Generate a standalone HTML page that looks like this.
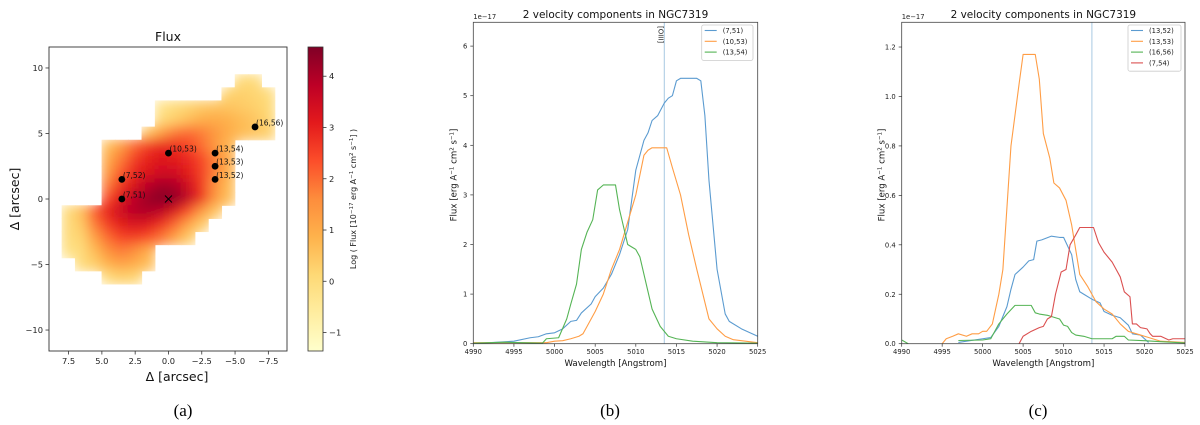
<!DOCTYPE html>
<html><head><meta charset="utf-8">
<style>
html,body{margin:0;padding:0;background:#fff;}
svg{display:block;font-family:"DejaVu Sans","Liberation Sans",sans-serif;}
.cap{font-family:"Liberation Serif",serif;font-size:17px;}
</style></head>
<body>
<svg id="fig" width="1200" height="425" viewBox="0 0 1200 425" xmlns="http://www.w3.org/2000/svg">
<defs>
<filter id="blur" x="-10%" y="-10%" width="120%" height="120%"><feGaussianBlur stdDeviation="6"/></filter>
<linearGradient id="cbgrad" x1="0" y1="1" x2="0" y2="0">
<stop offset="0" stop-color="#ffffcc"/><stop offset="0.125" stop-color="#ffeda0"/><stop offset="0.25" stop-color="#fed976"/><stop offset="0.375" stop-color="#feb24c"/><stop offset="0.5" stop-color="#fd8d3c"/><stop offset="0.625" stop-color="#fc4e2a"/><stop offset="0.75" stop-color="#e31a1c"/><stop offset="0.875" stop-color="#bd0026"/><stop offset="1" stop-color="#800026"/>
</linearGradient>
<clipPath id="maskclip"></clipPath>
</defs>
<g id="pa"></g>
<g id="pb"></g>
<g id="pc"></g>
<text class="cap" x="183" y="416" text-anchor="middle">(a)</text>
<text class="cap" x="610" y="416" text-anchor="middle">(b)</text>
<text class="cap" x="1038" y="416" text-anchor="middle">(c)</text>
</svg>
<script>
// ---------- Panel (a) data ----------
const mapRowsY = [9,8,7,6,5,4,3,2,1,0,-1,-2,-3,-4,-5,-6];
const mapRowsXStart = [-5,-4,1,1,2,5,5,5,5,5,8,8,8,8,7,5];
const mapRowsValues = [
 [0,0],
 [0.2,0.3,0.2,0],
 [-0.3,0,0.2,0.4,0.5,0.5,0.4,0.3,0.1],
 [0,0.3,0.6,0.9,1,0.9,0.7,0.5,0.2],
 [0.5,1.2,1.8,2,1.8,1.4,1,0.7,0.5,0.3],
 [0.6,1.3,2,2.6,2.9,2.8,2.5,2,1.4,0.8],
 [1,1.8,2.6,3.0,3.2,3.1,2.9,2.5,1.8,1],
 [1.3,2.2,2.9,3.2,3.4,3.4,3.1,2.6,1.8,0.9],
 [1.8,2.7,3.3,3.8,4.1,4.0,3.5,2.7,1.6,0.7],
 [2.4,3.2,3.8,4.2,4.5,4.4,3.8,2.8,1.5,0.6],
 [0,0.6,2.2,3.0,3.5,3.9,4.0,3.8,3.3,2.4,1.4,0.5],
 [0,0.4,1.8,2.6,3.1,3.3,3.2,2.8,2.1,1.2,0.4],
 [0,0.2,1.2,2,2.5,2.6,2.4,1.9,1.2,0.4],
 [-0.2,0,0.7,1.5,1.8,1.6,1.0],
 [0,0.3,0.9,1.2,1.0,0.6],
 [0,0.3,0.2]
];
const spaxelLabels = ["(7,52)","(7,51)","(10,53)","(13,54)","(13,53)","(13,52)","(16,56)"];
const spaxelX = [3.5,3.5,0,-3.5,-3.5,-3.5,-6.5];
const spaxelY = [1.5,0,3.5,3.5,2.5,1.5,5.5];
const mapXTicks = [7.5,5.0,2.5,0.0,-2.5,-5.0,-7.5];
const mapYTicks = [10,5,0,-5,-10];
const cbTicks = [-1,0,1,2,3,4];

// ---------- Panel (b) data ----------
const bBlueX = [4990,4992,4995,4997,4998,4999,5000,5001,5002,5002.7,5003.3,5004.5,5005,5006,5007,5008,5009,5010,5010.5,5011,5011.5,5012,5012.7,5013.5,5014,5014.5,5015,5015.5,5017.5,5018,5018.5,5019,5020,5021,5021.5,5023,5025];
const bBlueY = [0,0.02,0.05,0.12,0.14,0.2,0.22,0.3,0.45,0.47,0.62,0.8,0.95,1.12,1.4,1.8,2.3,3.5,3.8,4.1,4.25,4.5,4.6,4.85,4.95,5.0,5.3,5.35,5.35,5.3,4.6,3.3,1.5,0.6,0.45,0.3,0.15];
const bOrangeX = [4990,4999,5000,5001,5002,5003,5003.5,5004,5005,5006,5007,5008,5009,5010,5011,5011.5,5012,5013.8,5014.5,5015.5,5016.5,5017.5,5019,5020,5021,5022,5025];
const bOrangeY = [0.02,0.02,0.05,0.06,0.1,0.15,0.2,0.35,0.65,1.0,1.5,1.9,2.45,3.0,3.8,3.9,3.95,3.95,3.55,3.0,2.2,1.5,0.5,0.3,0.15,0.08,0.02];
const bGreenX = [4990,4994,4996,4998.5,4999,5000.5,5001.5,5002,5002.7,5003.3,5004,5004.7,5005.3,5006,5007.5,5008,5009,5009.5,5010,5010.5,5011.5,5012,5013,5014,5015,5017,5020,5025];
const bGreenY = [0.01,0.03,0.02,0.01,0.1,0.12,0.5,0.8,1.2,1.9,2.25,2.5,3.1,3.2,3.2,2.7,2.0,1.95,1.9,1.75,1.05,0.7,0.35,0.15,0.1,0.05,0.02,0.01];
const bYTicks = [0,1,2,3,4,5,6];
const bLegend = ["(7,51)","(10,53)","(13,54)"];

// ---------- Panel (c) data ----------
const cBlueX = [4997,5000,5001,5002,5003,5003.5,5004,5005,5005.7,5006.3,5006.7,5007.3,5008.5,5009.5,5010,5011,5011.5,5012,5012.5,5013.5,5014.5,5015,5016,5017,5018,5018.5,5019.5,5020.5];
const cBlueY = [0.005,0.02,0.025,0.07,0.15,0.22,0.28,0.31,0.335,0.34,0.415,0.42,0.435,0.43,0.43,0.36,0.26,0.21,0.2,0.18,0.165,0.13,0.115,0.105,0.075,0.04,0.035,0.005];
const cOrangeX = [4995,4995.5,4996.3,4997,4998,4998.7,4999.5,5000,5000.5,5001.2,5002,5002.5,5003.5,5004.5,5005,5006.5,5007,5007.5,5008.3,5008.8,5009.5,5010.3,5011,5011.5,5012,5013,5013.5,5014,5015,5016,5017,5018,5019,5020,5021,5022,5025];
const cOrangeY = [0,0.02,0.03,0.04,0.03,0.04,0.04,0.05,0.05,0.08,0.2,0.3,0.8,1.05,1.17,1.17,1.07,0.85,0.75,0.65,0.63,0.58,0.48,0.38,0.28,0.23,0.2,0.17,0.14,0.12,0.08,0.05,0.04,0.03,0.02,0.01,0.005];
const cGreenX = [4990,4990.8,4995.7,4997,5000,5001,5002,5003,5004,5006,5006.5,5007,5008,5009,5009.5,5010,5010.5,5011,5011.5,5012.5,5013.5,5015,5016,5016.5,5017.5,5018,5020,5022,5025];
const cGreenY = [0.015,0,null,0.013,0.015,0.02,0.08,0.12,0.155,0.155,0.125,0.12,0.115,0.105,0.1,0.075,0.07,0.045,0.035,0.03,0.02,0.02,0.02,0.03,0.03,0.015,0.012,0.008,0.003];
const cRedX = [5004.5,5005,5006,5007,5007.5,5008,5008.5,5009,5009.7,5010.3,5010.8,5011.5,5012,5013.7,5014.3,5015,5016,5016.5,5017,5017.5,5018.2,5018.5,5019,5019.5,5020.3,5020.7,5021,5022,5023,5023.5,5025];
const cRedY = [0,0.03,0.05,0.065,0.07,0.1,0.11,0.2,0.29,0.3,0.4,0.44,0.47,0.47,0.41,0.37,0.33,0.3,0.27,0.21,0.19,0.08,0.08,0.065,0.06,0.04,0.03,0.03,0.015,0.02,0.02];
const cYTicks = [0.0,0.2,0.4,0.6,0.8,1.0,1.2];
const cLegend = ["(13,52)","(13,53)","(16,56)","(7,54)"];
const xTicksSpec = [4990,4995,5000,5005,5010,5015,5020,5025];
const oiiiLine = 5013.5;

// ---------- helpers ----------
const NS="http://www.w3.org/2000/svg";
function mk(parent,tag,attrs,txt){const e=document.createElementNS(NS,tag);for(const k in attrs)e.setAttribute(k,attrs[k]);if(txt!==undefined)e.textContent=txt;parent.appendChild(e);return e;}
function lin(d0,d1,r0,r1){return v=>r0+(v-d0)/(d1-d0)*(r1-r0);}
const cmapStops=["#ffffcc","#ffeda0","#fed976","#feb24c","#fd8d3c","#fc4e2a","#e31a1c","#bd0026","#800026"];
function hex(c){return [parseInt(c.slice(1,3),16),parseInt(c.slice(3,5),16),parseInt(c.slice(5,7),16)];}
function cmap(v,vmin,vmax){let t=(v-vmin)/(vmax-vmin);t=Math.max(0,Math.min(1,t))*(cmapStops.length-1);const i=Math.min(Math.floor(t),cmapStops.length-2),f=t-i;const a=hex(cmapStops[i]),b=hex(cmapStops[i+1]);return `rgb(${a.map((x,k)=>Math.round(x+(b[k]-x)*f)).join(',')})`;}

// ---------- Panel (a) ----------
(function(){
 const g=document.getElementById('pa');
 const L=49,R=287,T=47,B=351;
 const sx=lin(8.97,-8.9,L,R), sy=lin(11.6,-11.6,T,B);
 const vmin=-1.36,vmax=4.57;
 const heat=mk(g,'g',{'clip-path':'url(#maskclip)'});
 
 
 const blurG=mk(heat,'g',{filter:'url(#blur)'});
 const maskg=document.getElementById('maskclip');
 mapRowsY.forEach((y,ri)=>{
  mapRowsValues[ri].forEach((v,ci)=>{
   const x0=mapRowsXStart[ri]-ci, x1=x0-1;
   const px=sx(x0), pw=sx(x1)-sx(x0), py=sy(y+0.5), ph=sy(y-0.5)-sy(y+0.5);
   const r=mk(blurG,'rect',{x:px-1,y:py-1,width:pw+2,height:ph+2,fill:cmap(v,vmin,vmax)});
   
   
   mk(maskg,'rect',{x:px-0.3,y:py-0.3,width:pw+0.6,height:ph+0.6});
  });
 });
 const frame=mk(g,'rect',{x:L,y:T,width:R-L,height:B-T,fill:'none',stroke:'#333','stroke-width':0.9});
 
 
 mapXTicks.forEach(t=>{const x=sx(t);mk(g,'line',{x1:x,y1:B,x2:x,y2:B+3.5,stroke:'#333','stroke-width':0.8});
  const lb=mk(g,'text',{x:x,y:B+13,'font-size':8.3,'text-anchor':'middle',fill:'#222'},t.toFixed(1).replace('-','\u2212'));
  
  });
 mapYTicks.forEach(t=>{const y=sy(t);mk(g,'line',{x1:L,y1:y,x2:L-3.5,y2:y,stroke:'#333','stroke-width':0.8});
  const lb=mk(g,'text',{x:L-6,y:y+3,'font-size':8.3,'text-anchor':'end',fill:'#222'},String(t).replace('-','\u2212'));
  
  });
 const tt=mk(g,'text',{x:168,y:41,'font-size':12.5,'text-anchor':'middle',fill:'#111'},'Flux');
 
 
 const xl=mk(g,'text',{x:177,y:381,'font-size':12.5,'text-anchor':'middle',fill:'#111'},'\u0394 [arcsec]');
 
 
 const yl=mk(g,'text',{x:0,y:0,'font-size':12.5,'text-anchor':'middle',fill:'#111',transform:`translate(19,${(T+B)/2}) rotate(-90)`},'\u0394 [arcsec]');
 
 
 spaxelX.forEach((x,i)=>{
  const c=mk(g,'circle',{cx:sx(x),cy:sy(spaxelY[i]),r:3.4,fill:'#000'});
  
  
  const lb=mk(g,'text',{x:sx(x)+1,y:sy(spaxelY[i])-1.5,'font-size':7.5,fill:'#111'},spaxelLabels[i]);
  
  
 });
 const cx=sx(0),cy=sy(0);
 const xm=mk(g,'path',{d:`M${cx-3.5},${cy-3.5}L${cx+3.5},${cy+3.5}M${cx-3.5},${cy+3.5}L${cx+3.5},${cy-3.5}`,stroke:'#000','stroke-width':0.9});
 
 
 const cL=308,cR=323;
 const cs=lin(vmin,vmax,B,T);
 const cb=mk(g,'rect',{x:cL,y:T,width:cR-cL,height:B-T,fill:'url(#cbgrad)',stroke:'#333','stroke-width':0.8});
 
 
 cbTicks.forEach(t=>{const y=cs(t);mk(g,'line',{x1:cR,y1:y,x2:cR+3.5,y2:y,stroke:'#333','stroke-width':0.8});
  const lb=mk(g,'text',{x:cR+6,y:y+3,'font-size':8.3,fill:'#222'},String(t).replace('-','\u2212'));
  
  });
 const cbl=mk(g,'text',{x:0,y:0,'font-size':8,'text-anchor':'middle',fill:'#222',transform:`translate(356,${(T+B)/2}) rotate(-90)`});
 
 
 cbl.innerHTML='Log ( Flux [10<tspan baseline-shift="super" font-size="5.5">\u221217</tspan> erg A<tspan baseline-shift="super" font-size="5.5">\u22121</tspan> cm<tspan baseline-shift="super" font-size="5.5">2</tspan> s<tspan baseline-shift="super" font-size="5.5">\u22121</tspan>] )';
})();

// ---------- spectrum panel builder ----------
function spectrum(gid,L,R,ymax,yTicks,tickFmt,series,legend,legBox,showOIII,tag){
 const g=document.getElementById(gid);
 const T=22.3,B=343.7;
 const sx=lin(4990,5025,L,R), sy=lin(0,ymax,B,T);
 const cp=mk(document.querySelector('defs'),'clipPath',{id:'clip'+gid});
 mk(cp,'rect',{x:L,y:T,width:R-L,height:B-T});
 const vx=sx(oiiiLine);
 const vl=mk(g,'line',{x1:vx,y1:T,x2:vx,y2:B,stroke:'#9ec3de','stroke-width':0.9});
 
 
 if(showOIII){const o=mk(g,'text',{x:0,y:0,'font-size':7,fill:'#222',transform:`translate(${vx-6},26) rotate(90)`},'[OIII]');
  
  }
 series.forEach(s=>{
  let d='',pen=false;
  s.x.forEach((x,i)=>{const y=s.y[i];if(y===null){pen=false;return;}d+=(pen?'L':'M')+sx(x).toFixed(2)+','+sy(y).toFixed(2);pen=true;});
  const p=mk(g,'path',{d:d,fill:'none',stroke:s.c,'stroke-width':1.1,'clip-path':`url(#clip${gid})`,'stroke-linejoin':'round'});
  
  
 });
 const fr=mk(g,'rect',{x:L,y:T,width:R-L,height:B-T,fill:'none',stroke:'#444','stroke-width':0.8});
 
 
 xTicksSpec.forEach(t=>{const x=sx(t);mk(g,'line',{x1:x,y1:B,x2:x,y2:B+3,stroke:'#333','stroke-width':0.7});
  const lb=mk(g,'text',{x:x,y:B+10.5,'font-size':6.8,'text-anchor':'middle',fill:'#222'},String(t));
  
  });
 yTicks.forEach(t=>{const y=sy(t);mk(g,'line',{x1:L,y1:y,x2:L-3,y2:y,stroke:'#333','stroke-width':0.7});
  const lb=mk(g,'text',{x:L-6,y:y+2.5,'font-size':6.8,'text-anchor':'end',fill:'#222'},tickFmt(t));
  
  });
 const off=mk(g,'text',{x:L,y:19,'font-size':6.8,fill:'#222'},'1e\u221217');
 
 
 const tt=mk(g,'text',{x:(L+R)/2,y:18,'font-size':10.5,'text-anchor':'middle',fill:'#111'},'2 velocity components in NGC7319');
 
 
 const xl=mk(g,'text',{x:(L+R)/2,y:366,'font-size':8.6,'text-anchor':'middle',fill:'#111'},'Wavelength [Angstrom]');
 
 
 const yl=mk(g,'text',{x:0,y:0,'font-size':8.6,'text-anchor':'middle',fill:'#111',transform:`translate(${L-17},${(T+B)/2-8}) rotate(-90)`});
 
 
 yl.innerHTML='Flux [erg A<tspan baseline-shift="super" font-size="5.5">\u22121</tspan> cm<tspan baseline-shift="super" font-size="5.5">2</tspan> s<tspan baseline-shift="super" font-size="5.5">\u22121</tspan>]';
 const lg=mk(g,'g',{});
 
 
 mk(lg,'rect',{x:legBox[0],y:25,width:legBox[1],height:legend.length*10.8+3,rx:2,fill:'#fff',stroke:'#ccc','stroke-width':0.8});
 legend.forEach((n,i)=>{const y=25+8+i*10.8;
  mk(lg,'line',{x1:legBox[0]+3,y1:y-2.5,x2:legBox[0]+15,y2:y-2.5,stroke:series[i].c,'stroke-width':1.1});
  const lt=mk(lg,'text',{x:legBox[0]+21,y:y,'font-size':6.8,fill:'#222'},n);
  
  });
}
spectrum('pb',473.3,757.7,6.48,bYTicks,t=>String(t),[
 {x:bBlueX,y:bBlueY,c:'#5b9bd0',name:'series-7-51'},
 {x:bOrangeX,y:bOrangeY,c:'#ff9d45',name:'series-10-53'},
 {x:bGreenX,y:bGreenY,c:'#55b455',name:'series-13-54'}],bLegend,[701.7,51.3],true,'panel-b');
spectrum('pc',901.7,1185,1.30,cYTicks,t=>t.toFixed(1),[
 {x:cBlueX,y:cBlueY,c:'#5b9bd0',name:'series-13-52'},
 {x:cOrangeX,y:cOrangeY,c:'#ff9d45',name:'series-13-53'},
 {x:cGreenX,y:cGreenY,c:'#55b455',name:'series-16-56'},
 {x:cRedX,y:cRedY,c:'#db5050',name:'series-7-54'}],cLegend,[1128,53],false,'panel-c');
</script>
</body></html>
